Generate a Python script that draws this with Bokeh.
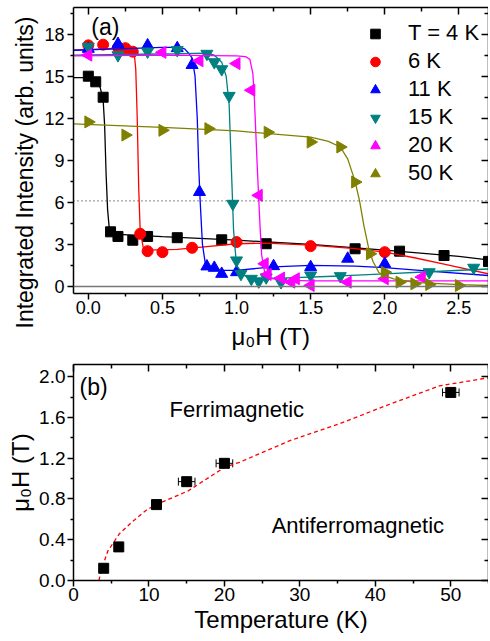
import numpy as np
from bokeh.plotting import figure
from bokeh.models import (Range1d, FixedTicker, LinearAxis, Span, Label, Legend, Title,
                          LegendItem, Whisker, ColumnDataSource, TeeHead,
                          NumeralTickFormatter, CustomJSTickFormatter)
from bokeh.layouts import column
from bokeh.embed import file_html
from bokeh.resources import INLINE

FONT = "Liberation Sans"

# ---------------- panel (a) data: integrated intensity vs field ----------------
x_4K = [0.0, 0.05, 0.1, 0.15, 0.2, 0.3, 0.4, 0.6, 0.9, 1.2, 1.8, 2.1, 2.4, 2.7]
y_4K = [15.0, 14.6, 13.5, 3.9, 3.57, 3.3, 3.57, 3.48, 3.33, 3.05, 2.69, 2.52, 2.21, 1.79]
x_6K = [0.0, 0.1, 0.2, 0.25, 0.3, 0.35, 0.4, 0.5, 0.7, 1.0, 1.5, 2.0]
y_6K = [17.2, 17.25, 17.05, 17.0, 16.75, 3.76, 2.52, 2.45, 2.76, 3.17, 2.88, 2.45]
x_11K = [0.0, 0.2, 0.4, 0.6, 0.7, 0.75, 0.8, 0.85, 0.9, 1.0, 1.25, 1.5, 1.75, 2.0]
y_11K = [16.95, 17.3, 17.2, 17.0, 15.8, 6.74, 1.43, 1.33, 0.9, 1.02, 1.45, 1.38, 1.98, 1.62]
x_15K = [0.0, 0.2, 0.4, 0.6, 0.8, 0.85, 0.9, 0.95, 0.975, 1.0, 1.03, 1.1, 1.15, 1.2, 1.3, 1.5, 1.7, 2.3, 2.6]
y_15K = [17.1, 16.5, 16.76, 16.86, 16.6, 16.0, 15.5, 13.6, 5.9, 1.86, 0.9, 0.55, 0.36, 0.65, 0.31, 0.79, 0.74, 1.02, 1.34]
x_20K = [0.0, 0.5, 0.75, 1.0, 1.1, 1.15, 1.19, 1.21, 1.3, 1.37, 1.4, 1.5, 1.75, 2.0, 2.25]
y_20K = [16.5, 16.7, 16.1, 15.9, 14.0, 6.5, 1.62, 0.86, 0.6, 0.31, 0.55, 0.07, 0.31, 0.55, 0.67]
x_50K = [0.0, 0.25, 0.5, 0.81, 1.21, 1.5, 1.7, 1.8, 1.9, 2.0, 2.1, 2.2, 2.3, 2.5]
y_50K = [11.74, 10.8, 11.14, 11.26, 11.0, 10.3, 9.95, 7.45, 2.33, 1.02, 0.31, 0.19, 0.14, 0.07]

# fitted curves
fx_4K = [-0.1, 0.0, 0.05, 0.08, 0.10, 0.11, 0.12, 0.13, 0.14, 0.16, 0.2, 0.5, 1.0, 1.5, 2.0, 2.5, 2.7]
fy_4K = [14.9, 14.9, 14.7, 14.2, 13.3, 11.5, 8.0, 5.5, 4.3, 3.8, 3.72, 3.55, 3.3, 3.0, 2.6, 2.15, 1.9]
fx_6K = [-0.1, 0.0, 0.2, 0.28, 0.31, 0.32, 0.33, 0.34, 0.35, 0.37, 0.4, 0.6, 0.8, 1.0, 1.2, 1.5, 1.8, 2.0, 2.2, 2.4, 2.7]
fy_6K = [16.85, 16.9, 17.0, 16.95, 16.6, 15.5, 12.0, 7.0, 4.0, 2.8, 2.6, 2.65, 2.85, 3.05, 3.1, 2.95, 2.7, 2.45, 2.05, 1.6, 0.9]
fx_11K = [-0.1, 0.2, 0.5, 0.6, 0.65, 0.68, 0.70, 0.72, 0.735, 0.745, 0.755, 0.77, 0.79, 0.85, 1.0, 1.25, 1.5, 1.8, 2.0, 2.3, 2.7]
fy_11K = [16.85, 16.95, 17.05, 17.05, 16.95, 16.6, 16.3, 15.0, 12.0, 8.5, 6.0, 3.0, 1.6, 1.15, 1.15, 1.4, 1.5, 1.45, 1.35, 1.1, 0.78]
fx_15K = [-0.1, 0.6, 0.8, 0.85, 0.9, 0.93, 0.95, 0.96, 0.97, 0.98, 1.0, 1.05, 1.1, 1.3, 1.7, 2.0, 2.3, 2.7]
fy_15K = [16.5, 16.6, 16.65, 16.5, 16.0, 15.0, 13.0, 10.0, 7.0, 4.0, 1.5, 0.8, 0.6, 0.6, 0.75, 0.9, 1.05, 1.25]
fx_20K = [-0.1, 0.5, 1.0, 1.06, 1.09, 1.11, 1.12, 1.13, 1.14, 1.15, 1.16, 1.17, 1.19, 1.22, 1.3, 1.5, 2.0, 2.7]
fy_20K = [16.45, 16.5, 16.45, 16.4, 16.2, 15.2, 13.5, 11.0, 8.5, 6.2, 4.0, 2.2, 1.0, 0.6, 0.45, 0.4, 0.4, 0.4]
fx_50K = [-0.1, 0.5, 1.0, 1.5, 1.62, 1.7, 1.75, 1.8, 1.83, 1.86, 1.89, 1.92, 1.96, 2.0, 2.06, 2.2, 2.5, 2.7]
fy_50K = [11.6, 11.35, 11.1, 10.65, 10.35, 9.95, 9.1, 7.5, 6.1, 4.3, 2.8, 1.8, 1.0, 0.75, 0.55, 0.3, 0.14, 0.07]

labels_a = ["T = 4 K", "6 K", "11 K", "15 K", "20 K", "50 K"]
colors_a = ["black", "#FF0000", "#0000FF", "#008080", "#FF00FF", "#808000"]
xticks_a = [0.0, 0.5, 1.0, 1.5, 2.0, 2.5]
yticks_a = [0, 3, 6, 9, 12, 15, 18]
threshold_a = 6.1

# ---------------- panel (b) data: phase boundary ----------------
T_b = [4, 6, 11, 15, 20, 50]
H_b = [0.12, 0.33, 0.745, 0.97, 1.15, 1.846]
Terr_b = [0.0, 0.0, 0.0, 1.1, 1.1, 1.1]
fitT_b = [3.36, 3.89, 4.55, 6.1, 8.0, 9.64, 10.97, 15.2, 20.0, 22.0, 28.6, 35.3, 41.9, 48.5, 55.0]
fitH_b = [0.0, 0.147, 0.29, 0.46, 0.59, 0.69, 0.745, 0.88, 1.11, 1.16, 1.37, 1.54, 1.73, 1.91, 1.99]
xticks_b = [0, 10, 20, 30, 40, 50]
yticks_b = [0.0, 0.4, 0.8, 1.2, 1.6, 2.0]

EMPTY = CustomJSTickFormatter(code="return ''")


def style_axes(p, xt, xminor, yt, yminor, tick_font, xfmt, yfmt):
    bottom, left = p.below[0], p.left[0]
    for ax in (bottom, left):
        ax.axis_line_width = 1.5
        ax.major_tick_line_width = 1.5
        ax.minor_tick_line_width = 1.5
        ax.major_tick_out = 6
        ax.major_tick_in = 0
        ax.minor_tick_out = 3
        ax.minor_tick_in = 0
        ax.major_label_text_font = FONT
        ax.major_label_text_font_size = tick_font
        ax.major_label_text_color = "black"
        ax.axis_label_text_font = FONT
        ax.axis_label_text_font_style = "normal"
        ax.axis_label_text_color = "black"
    bottom.ticker = FixedTicker(ticks=xt, minor_ticks=xminor)
    left.ticker = FixedTicker(ticks=yt, minor_ticks=yminor)
    if xfmt:
        bottom.formatter = NumeralTickFormatter(format=xfmt)
    if yfmt:
        left.formatter = NumeralTickFormatter(format=yfmt)
    # mirrored axes with inward ticks
    top = LinearAxis(ticker=FixedTicker(ticks=xt, minor_ticks=xminor), formatter=EMPTY)
    right = LinearAxis(ticker=FixedTicker(ticks=yt, minor_ticks=yminor), formatter=EMPTY)
    for ax in (top, right):
        ax.axis_line_width = 1.5
        ax.major_tick_line_width = 1.5
        ax.minor_tick_line_width = 1.5
        ax.major_tick_out = 0
        ax.major_tick_in = 7
        ax.minor_tick_out = 0
        ax.minor_tick_in = 4
        ax.major_label_standoff = 0
        ax.major_label_text_font_size = "10px"
    p.add_layout(top, "above")
    p.add_layout(right, "right")
    p.xgrid.visible = False
    p.ygrid.visible = False
    p.outline_line_color = None
    return bottom, left


# ---------------- figure (a) ----------------
p1 = figure(width=488, height=356, output_backend="svg", toolbar_location=None,
            x_range=Range1d(-0.1, 2.7), y_range=Range1d(-0.5, 19.9),
            min_border_left=73, min_border_right=0, min_border_top=7, min_border_bottom=63)
p1.background_fill_color = "white"
p1.border_fill_color = "white"
b1, l1 = style_axes(p1, xticks_a, [0.25, 0.75, 1.25, 1.75, 2.25],
                    yticks_a, [1.5, 4.5, 7.5, 10.5, 13.5, 16.5, 19.5], "18px", "0.0", None)
b1.major_label_standoff = 1
l1.major_label_standoff = 3
p1.add_layout(Title(text="μ₀H (T)", align="left", offset=158,
                    text_font=FONT, text_font_size="24px", text_font_style="normal",
                    text_color="black", standoff=8), "below")
p1.add_layout(Title(text="Integrated Intensity (arb. units)", align="left", offset=-35,
                    text_font=FONT, text_font_size="23px", text_font_style="normal",
                    text_color="black", standoff=8), "left")

p1.add_layout(Span(location=0, dimension="width", line_color="#777777", line_width=1.5))
p1.add_layout(Span(location=threshold_a, dimension="width", line_color="#444444",
                   line_width=1.2, line_dash="1 3"))

series = [
    (x_4K, y_4K, fx_4K, fy_4K, "square", 10, 0.0),
    (x_6K, y_6K, fx_6K, fy_6K, "circle", 11, 0.0),
    (x_11K, y_11K, fx_11K, fy_11K, "triangle", 12, 0.0),
    (x_15K, y_15K, fx_15K, fy_15K, "inverted_triangle", 12, 0.0),
    (x_20K, y_20K, fx_20K, fy_20K, "triangle", 12, np.pi / 2),
    (x_50K, y_50K, fx_50K, fy_50K, "triangle", 12, -np.pi / 2),
]
items = []
for (xs, ys, fx, fy, mk, sz, ang), col, lab in zip(series, colors_a, labels_a):
    p1.line(fx, fy, line_color=col, line_width=1.3)
    r = p1.scatter(xs, ys, marker=mk, size=sz, angle=ang, fill_color=col, line_color=col)
    items.append(LegendItem(label=lab, renderers=[r]))

legend = Legend(items=items, location=(290, 107), orientation="vertical",
                label_text_font=FONT, label_text_font_size="22px", label_text_color="black",
                glyph_width=24, glyph_height=25, label_height=25, spacing=2,
                label_standoff=21, padding=0, margin=0,
                border_line_color=None, background_fill_alpha=0)
p1.add_layout(legend, "center")

p1.add_layout(Label(x=0.02, y=18.54, text="(a)", text_font=FONT, text_font_size="23px",
                    text_baseline="alphabetic", text_color="black"))

# ---------------- figure (b) ----------------
p2 = figure(width=488, height=280, output_backend="svg", toolbar_location=None,
            x_range=Range1d(0, 55), y_range=Range1d(0, 2.12),
            min_border_left=73, min_border_right=0, min_border_top=8, min_border_bottom=56)
p2.background_fill_color = "white"
p2.border_fill_color = "white"
b2, l2 = style_axes(p2, xticks_b, [5, 15, 25, 35, 45, 55],
                    yticks_b, [0.2, 0.6, 1.0, 1.4, 1.8], "19px", None, "0.0")
b2.axis_label = "Temperature (K)"
b2.axis_label_text_font_size = "24px"
b2.axis_label_standoff = 2
b2.major_label_standoff = 1
l2.axis_label = "μ₀H (T)"
l2.axis_label_text_font_size = "24px"
l2.axis_label_standoff = 2
l2.major_label_standoff = 2

p2.line(fitT_b, fitH_b, line_color="#FF0000", line_width=1.3, line_dash="4 3")

eT = [t for t, e in zip(T_b, Terr_b) if e > 0]
eH = [h for h, e in zip(H_b, Terr_b) if e > 0]
eE = [e for e in Terr_b if e > 0]
esrc = ColumnDataSource(data=dict(base=eH, lower=[t - e for t, e in zip(eT, eE)],
                                  upper=[t + e for t, e in zip(eT, eE)]))
p2.add_layout(Whisker(source=esrc, base="base", lower="lower", upper="upper", dimension="width",
                      line_color="black", line_width=1,
                      lower_head=TeeHead(size=8, line_color="black", line_width=1),
                      upper_head=TeeHead(size=8, line_color="black", line_width=1)))
p2.scatter(T_b, H_b, marker="square", size=10, fill_color="black", line_color="black")

p2.add_layout(Label(x=0.8, y=1.90, text="(b)", text_font=FONT, text_font_size="23px",
                    text_baseline="alphabetic", text_color="black"))
p2.add_layout(Label(x=12.73, y=1.68, text="Ferrimagnetic", text_font=FONT, text_font_size="22px",
                    text_baseline="alphabetic", text_color="black"))
p2.add_layout(Label(x=26.26, y=0.538, text="Antiferromagnetic", text_font=FONT,
                    text_font_size="22px", text_baseline="alphabetic", text_color="black"))

layout = column(p1, p2, spacing=0)
open("out.html", "w").write(file_html(layout, INLINE))
